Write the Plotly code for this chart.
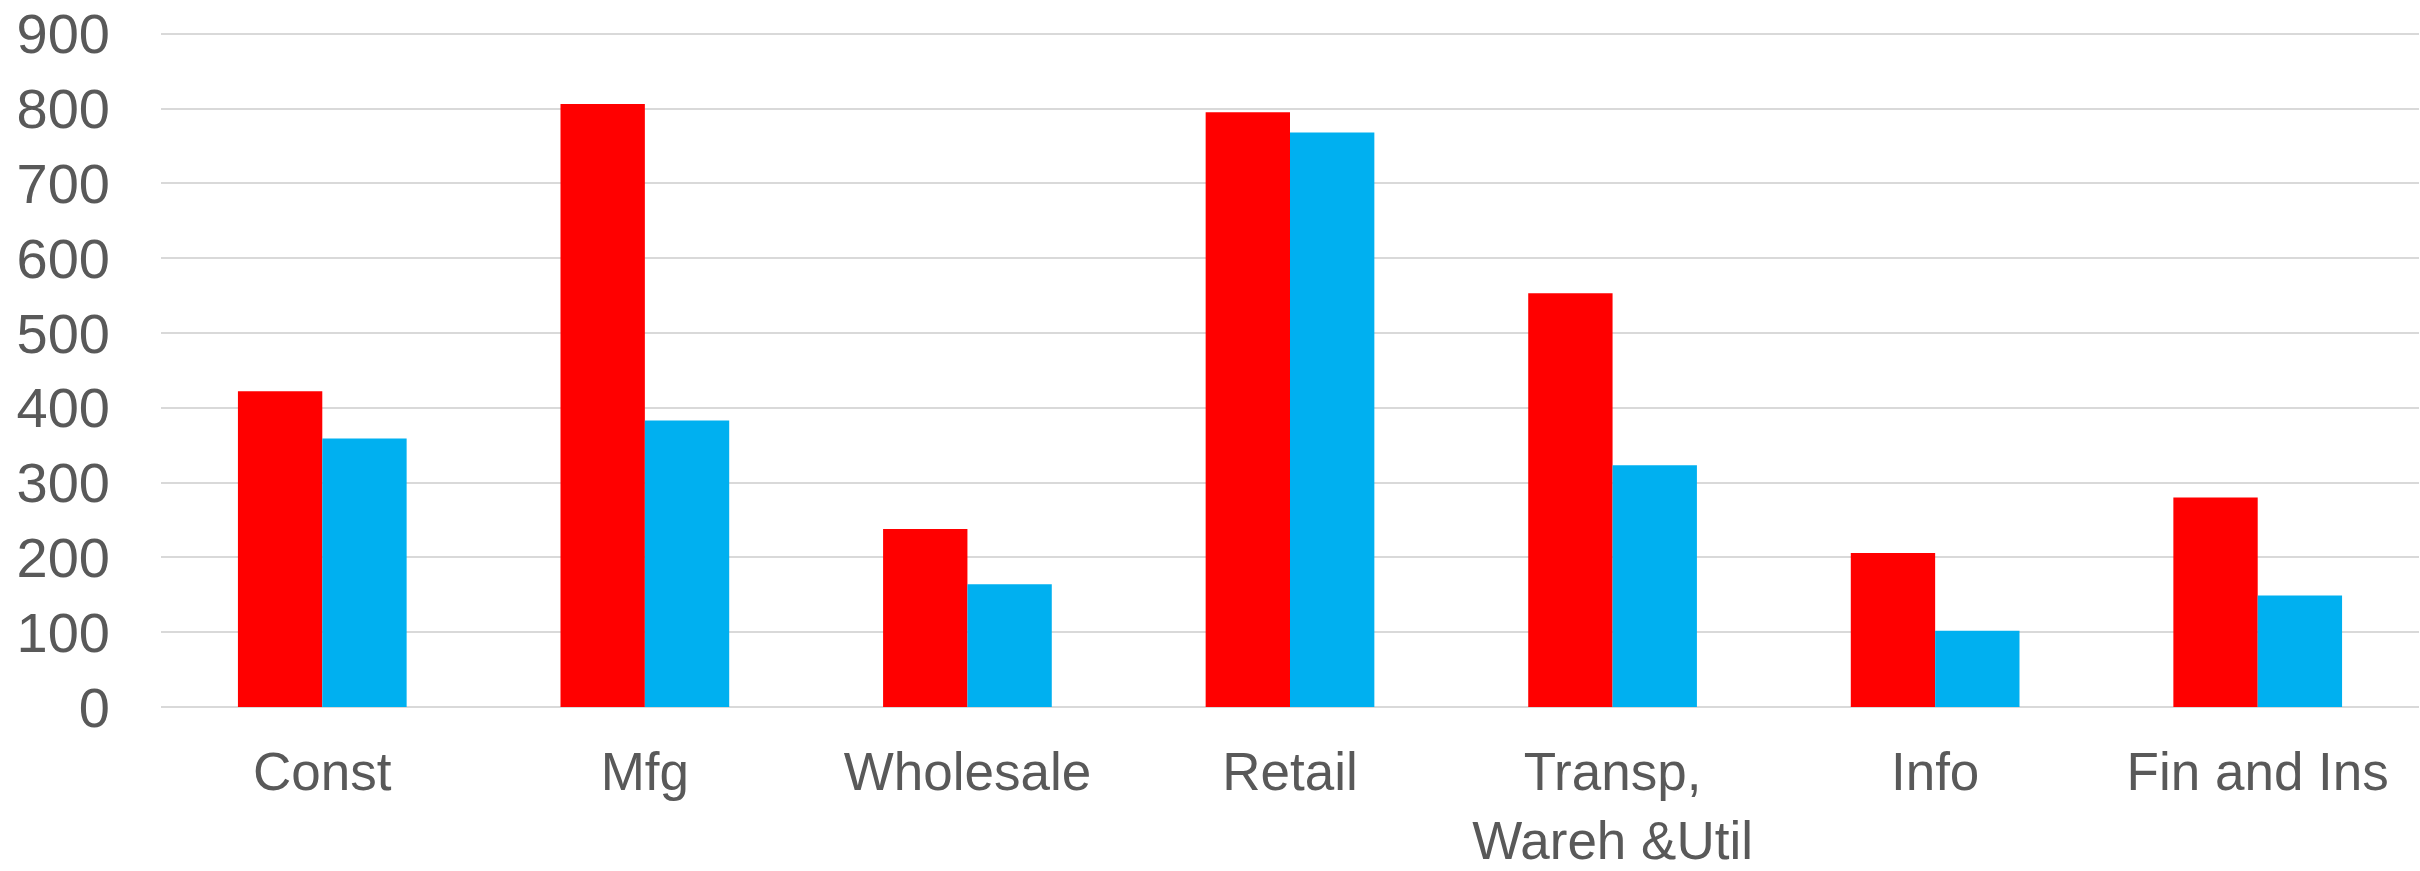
import plotly.graph_objects as go

categories = ["Const", "Mfg", "Wholesale", "Retail", "Transp,<br>Wareh &Util", "Info", "Fin and Ins"]
series_red = [422, 806, 238, 795, 553, 206, 280]
series_blue = [359, 383, 164, 768, 323, 102, 149]
y_ticks = [0, 100, 200, 300, 400, 500, 600, 700, 800, 900]

fig = go.Figure()
fig.add_trace(go.Bar(x=categories, y=series_red, marker=dict(color="#FF0000", line=dict(width=0)), name="A"))
fig.add_trace(go.Bar(x=categories, y=series_blue, marker=dict(color="#00B0F0", line=dict(width=0)), name="B"))

fig.update_layout(
    width=2420, height=871,
    margin=dict(l=161, r=1, t=30, b=163.6, autoexpand=False),
    paper_bgcolor="white", plot_bgcolor="white",
    barmode="group", bargap=0.477, bargroupgap=0,
    showlegend=False,
    font=dict(family="Liberation Sans, Arial, sans-serif", color="#595959"),
)
fig.update_yaxes(
    range=[0, 905], tickvals=y_ticks, ticktext=[str(v) for v in y_ticks],
    showgrid=True, gridcolor="#d9d9d9", gridwidth=2,
    zeroline=True, zerolinecolor="#d9d9d9", zerolinewidth=2,
    showline=False, ticks="", tickfont=dict(size=56, color="#595959"),
    ticklabelstandoff=50, ticklabeloverflow="allow",
)
fig.update_xaxes(
    showgrid=False, showline=False, ticks="",
    tickfont=dict(size=53, color="#595959"), tickangle=0,
    ticklabelstandoff=29, ticklabeloverflow="allow",
)
fig.write_html("out.html")
